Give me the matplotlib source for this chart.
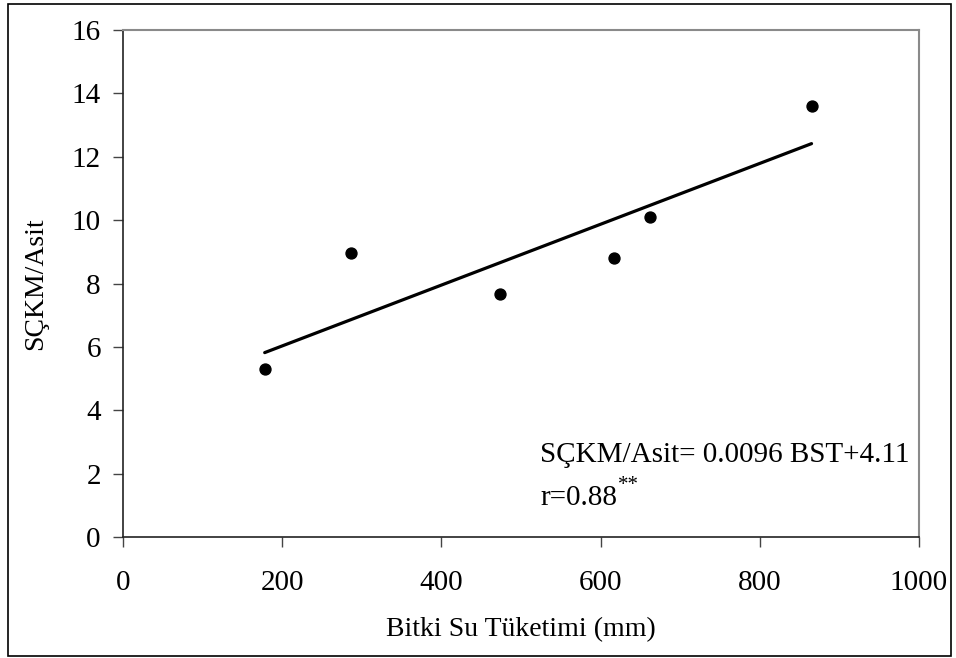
import matplotlib
matplotlib.use("Agg")
import matplotlib.pyplot as plt
from matplotlib.patches import Rectangle
import numpy as np

# values
bst = [178, 286, 473, 617, 662, 865]
sckm_asit = [5.3, 8.97, 7.67, 8.8, 10.1, 13.6]
slope = 0.0096
intercept = 4.11

x_ticks = [0, 200, 400, 600, 800, 1000]
y_ticks = [0, 2, 4, 6, 8, 10, 12, 14, 16]

plt.rcParams['font.family'] = ['Liberation Serif', 'DejaVu Serif']

fig = plt.figure(figsize=(9.56, 6.58), dpi=100)
ax = fig.add_axes([123/956, 1 - 537/658, 796/956, 507/658])

ax.scatter(bst, sckm_asit, s=62, color='black', zorder=3)
xl = np.array([min(bst), max(bst)])
ax.plot(xl, slope * xl + intercept, color='black', lw=2.3, solid_capstyle='round')

ax.set_xlim(0, 1000)
ax.set_ylim(0, 16)
ax.set_xticks(x_ticks)
ax.set_yticks(y_ticks)
ax.tick_params(axis='both', direction='out', length=7, width=1, color='#444444',
               labelsize=21)
ax.tick_params(axis='x', pad=17)
ax.tick_params(axis='y', pad=9)

for s in ['left', 'bottom']:
    ax.spines[s].set_color('#222222')
    ax.spines[s].set_linewidth(1.2)
for s in ['top', 'right']:
    ax.spines[s].set_color('#8a8a8a')
    ax.spines[s].set_linewidth(1.5)

ax.set_xlabel('Bitki Su Tüketimi (mm)', fontsize=20, labelpad=15)
ax.set_ylabel('SÇKM/Asit', fontsize=20, labelpad=17)

ax.text(524, 2.37, 'SÇKM/Asit= 0.0096 BST+4.11', fontsize=21, va='baseline', ha='left')
r_txt = ax.text(524, 1.01, 'r=0.88', fontsize=21, va='baseline', ha='left')
ax.annotate('**', xy=(1, 0.6), xycoords=r_txt, xytext=(0.5, 0), textcoords='offset points',
            fontsize=15, va='bottom', ha='left')

fig.patches.append(Rectangle((8/956, 2/658), 943/956, 652/658, transform=fig.transFigure,
                             fill=False, edgecolor='black', lw=1.2))

fig.savefig('out.png', dpi=100)
